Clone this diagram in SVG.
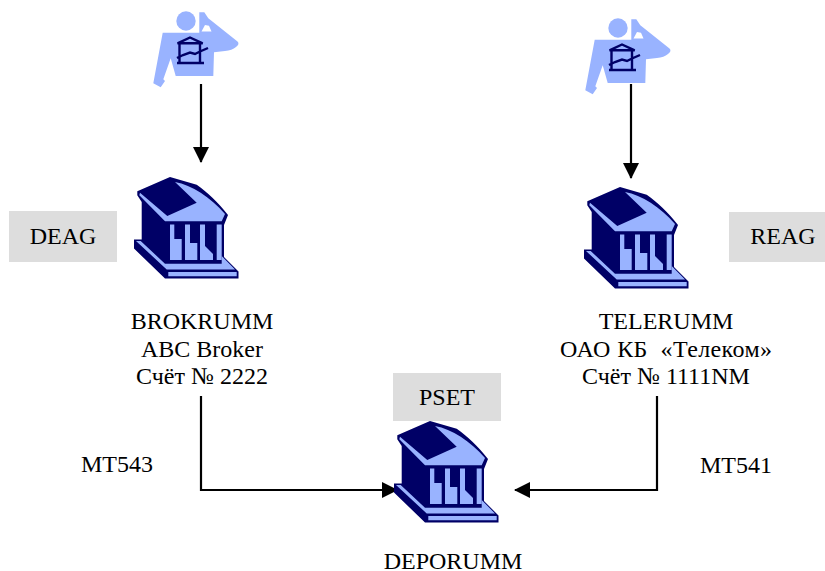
<svg xmlns="http://www.w3.org/2000/svg" xmlns:xlink="http://www.w3.org/1999/xlink" width="825" height="571" viewBox="0 0 825 571">
<style>
text{font-family:"Liberation Serif","Times New Roman",serif;font-size:24px;fill:#000;text-anchor:middle}
.tag{fill:#dddddd}
.dark{fill:#000066}
.light{fill:#99b3ff}
.line{fill:none;stroke:#000;stroke-width:2.2}
.icon{fill:none;stroke:#000066;stroke-width:2.4}
</style>
<defs>
<marker id="arrow" viewBox="0 0 16 16" refX="15" refY="8" markerWidth="16" markerHeight="16" markerUnits="userSpaceOnUse" orient="auto"><path d="M0 0L16 8L0 16z" fill="#000"/></marker>
<g id="bank">
<path class="dark" d="M50 0L17.300 14.300V18.300L21.700 25V62.500H14V71.500L45 101.500H118.500V94.500L104 80V48L108 38C97 24 88 16 76.700 7.700z"/>
<path class="light" d="M20 15.700L47.300 39L76.700 25.700L55 5C72 8 90 20 105 37L101.700 44.300H45L19.300 18.300z"/>
<path class="light" d="M50 47.500H54.300V62H61.700V83H50zM65 47.500H70V66H77.300V83H65zM80 47.500H85V69L93 77V83H80zM96.700 47.500H101.700V83H96.700z"/>
<path class="dark" d="M49 83H55V85.300H49zM61 83H70V85.300H61zM77 83H85V85.300H77zM93 83H102V85.300H93z"/>
<path class="light" d="M16 64H20.700L45 86.700H101.700V79L115 92.500H46.700z"/>
<path class="light" d="M48.300 95H116.700V99.200H48.300z"/>
</g>
<g id="person">
<circle class="light" cx="46" cy="21" r="9.700"/>
<path class="light" fill-rule="evenodd" d="M59.300 12.300H64.300L68.300 18.300L97.500 41.500Q100 44 96 47Q92 50.500 85 51L74 52.300L73.300 76H35.700L30.700 58.300L23.300 79.300L25 81L20.700 87.300L13.300 83.300L22.700 32.700H59.300zM61.500 31.500L65 25L69 25.700L71.500 31.500z"/>
<path class="icon" d="M37.500 43.300L50 37.500L62.700 43.300zM39.500 43.300V63M60 43.300V63M37 63H64M37 58L43 55L50 52.500L55 54L60 51.500L68 48"/>
</g>
</defs>
<g id="connectors">
<path class="line" d="M201 84V162" marker-end="url(#arrow)"/>
<path class="line" d="M631 84V178" marker-end="url(#arrow)"/>
<path class="line" d="M201 396V490H397" marker-end="url(#arrow)"/>
<path class="line" d="M657 396V490H515" marker-end="url(#arrow)"/>
</g>
<g id="trader-left"><use xlink:href="#person" href="#person" x="140" y="0"/></g>
<g id="trader-right"><use xlink:href="#person" href="#person" x="572" y="7"/></g>
<g id="deag"><rect class="tag" x="9" y="211" width="108" height="51"/><text x="63" y="244">DEAG</text></g>
<g id="reag"><rect class="tag" x="729" y="212" width="96" height="50"/><text x="783" y="244">REAG</text></g>
<g id="pset"><rect class="tag" x="393" y="373" width="108" height="48"/><text x="447" y="405">PSET</text></g>
<g id="brokrumm"><use xlink:href="#bank" href="#bank" x="120" y="177"/>
<text x="202" y="329">BROKRUMM</text><text x="202" y="357">ABC Broker</text><text x="202" y="384">Счёт № 2222</text></g>
<g id="telerumm"><use xlink:href="#bank" href="#bank" x="570" y="187"/>
<text x="666" y="329">TELERUMM</text><text x="666" y="357" xml:space="preserve" textLength="212">ОАО КБ  «Телеком»</text><text x="666" y="384">Счёт № 1111NM</text></g>
<g id="deporumm"><use xlink:href="#bank" href="#bank" x="380" y="421"/>
<text x="453" y="569">DEPORUMM</text></g>
<text id="mt543" x="117" y="472">MT543</text>
<text id="mt541" x="736" y="473">MT541</text>
</svg>
